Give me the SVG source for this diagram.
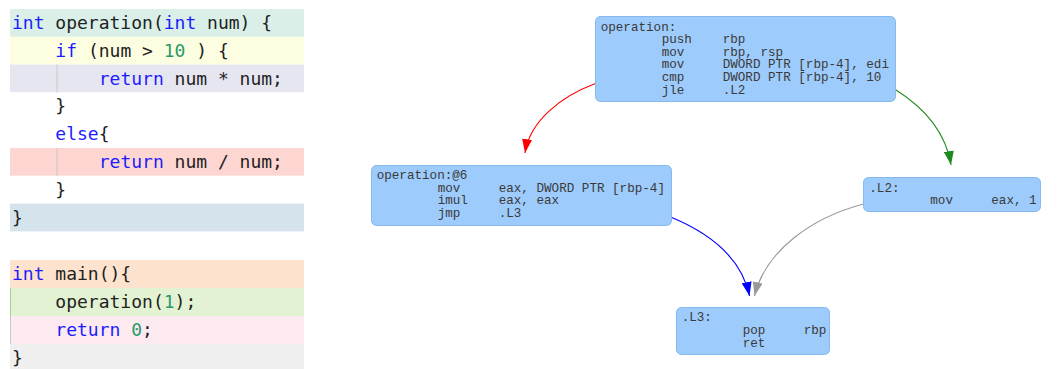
<svg xmlns="http://www.w3.org/2000/svg" width="1059" height="369" viewBox="0 0 1059 369">
<style>
.code{font-family:"DejaVu Sans Mono","Liberation Mono",monospace;font-size:18px;fill:#222;white-space:pre}
.kw{fill:#1c1cff}
.nm{fill:#2a9a6a}
.guide{stroke:#c8c8c8;stroke-width:1}
.node rect{fill:#9dcbfb;stroke:#84b8ef;stroke-width:1}
.asm{font-family:"Liberation Mono","DejaVu Sans Mono",monospace;font-size:12.6px;fill:#3a3a3a;white-space:pre}
.edge{fill:none;stroke-width:1.1}
</style>
<defs>
<marker id="ar" viewBox="0 0 14 10" refX="14" refY="5" markerWidth="14" markerHeight="10" markerUnits="userSpaceOnUse" orient="auto"><path d="M0,0 L14,5 L0,10 z" fill="#ff0000"/></marker>
<marker id="ag" viewBox="0 0 14 10" refX="14" refY="5" markerWidth="14" markerHeight="10" markerUnits="userSpaceOnUse" orient="auto"><path d="M0,0 L14,5 L0,10 z" fill="#1e8a1e"/></marker>
<marker id="ab" viewBox="0 0 14 10" refX="14" refY="5" markerWidth="14" markerHeight="10" markerUnits="userSpaceOnUse" orient="auto"><path d="M0,0 L14,5 L0,10 z" fill="#0000ff"/></marker>
<marker id="ay" viewBox="0 0 14 10" refX="14" refY="5" markerWidth="14" markerHeight="10" markerUnits="userSpaceOnUse" orient="auto"><path d="M0,0 L14,5 L0,10 z" fill="#999999"/></marker>
</defs>
<rect width="1059" height="369" fill="#ffffff"/>

<g id="code-operation">
<rect x="10" y="9" width="294" height="27.8" fill="#d9efe8"/>
<rect x="10" y="36.8" width="294" height="27.8" fill="#fdfde1"/>
<rect x="10" y="64.6" width="294" height="27.8" fill="#e6e6f1"/>
<rect x="10" y="92.4" width="294" height="27.8" fill="#ffffff"/>
<rect x="10" y="120.2" width="294" height="27.8" fill="#ffffff"/>
<rect x="10" y="148" width="294" height="27.8" fill="#fdd6d1"/>
<rect x="10" y="175.8" width="294" height="27.8" fill="#ffffff"/>
<rect x="10" y="203.6" width="294" height="27.8" fill="#d4e3ec"/>
<line class="guide" x1="57" y1="64.6" x2="57" y2="92.4"/>
<line class="guide" x1="57" y1="148" x2="57" y2="175.8"/>
<text class="code" x="12" y="29"><tspan class="kw">int</tspan> operation(<tspan class="kw">int</tspan> num) {</text>
<text class="code" x="12" y="56.8">    <tspan class="kw">if</tspan> (num &gt; <tspan class="nm">10</tspan> ) {</text>
<text class="code" x="12" y="84.6">        <tspan class="kw">return</tspan> num * num;</text>
<text class="code" x="12" y="112.4">    }</text>
<text class="code" x="12" y="140.2">    <tspan class="kw">else</tspan>{</text>
<text class="code" x="12" y="168">        <tspan class="kw">return</tspan> num / num;</text>
<text class="code" x="12" y="195.8">    }</text>
<text class="code" x="12" y="223.6">}</text>
</g>

<g id="code-main">
<rect x="10" y="260" width="294" height="28" fill="#fde2cd"/>
<rect x="10" y="288" width="294" height="28" fill="#e2f2d3"/>
<rect x="10" y="316" width="294" height="28" fill="#fdeaf1"/>
<rect x="10" y="344" width="294" height="25" fill="#efefef"/>
<line x1="10.5" y1="288" x2="10.5" y2="316" stroke="#a9cf8f" stroke-width="1"/>
<line x1="10.5" y1="316" x2="10.5" y2="344" stroke="#cfc2c8" stroke-width="1"/>
<text class="code" x="12" y="280"><tspan class="kw">int</tspan> main(){</text>
<text class="code" x="12" y="308">    operation(<tspan class="nm">1</tspan>);</text>
<text class="code" x="12" y="336">    <tspan class="kw">return</tspan> <tspan class="nm">0</tspan>;</text>
<text class="code" x="12" y="364">}</text>
</g>

<g id="connectors">
<path class="edge" stroke="#ff0000" d="M595.5,83.5 C562,96 530,120 525,153" marker-end="url(#ar)"/>
<path class="edge" stroke="#1e8a1e" d="M894.5,89 C925,108 946,133 951,165" marker-end="url(#ag)"/>
<path class="edge" stroke="#0000ff" d="M670.5,217 C712,234 742,260 749.5,296" marker-end="url(#ab)"/>
<path class="edge" stroke="#999999" d="M863.5,204 C810,218 765,252 754.5,296" marker-end="url(#ay)"/>
</g>

<g id="node-operation" class="node">
<rect x="595.5" y="16.5" width="300" height="85" rx="5"/>
<text class="asm" x="600.7" y="30.5">operation:</text>
<text class="asm" y="43.1"><tspan x="661.7">push</tspan><tspan x="722.7">rbp</tspan></text>
<text class="asm" y="55.7"><tspan x="661.7">mov</tspan><tspan x="722.7">rbp, rsp</tspan></text>
<text class="asm" y="68.3"><tspan x="661.7">mov</tspan><tspan x="722.7">DWORD PTR [rbp-4], edi</tspan></text>
<text class="asm" y="80.9"><tspan x="661.7">cmp</tspan><tspan x="722.7">DWORD PTR [rbp-4], 10</tspan></text>
<text class="asm" y="93.5"><tspan x="661.7">jle</tspan><tspan x="722.7">.L2</tspan></text>
</g>

<g id="node-operation-6" class="node">
<rect x="371.5" y="165.5" width="300" height="60" rx="5"/>
<text class="asm" x="376.7" y="179">operation:@6</text>
<text class="asm" y="191.7"><tspan x="437.7">mov</tspan><tspan x="498.7">eax, DWORD PTR [rbp-4]</tspan></text>
<text class="asm" y="204.4"><tspan x="437.7">imul</tspan><tspan x="498.7">eax, eax</tspan></text>
<text class="asm" y="217.1"><tspan x="437.7">jmp</tspan><tspan x="498.7">.L3</tspan></text>
</g>

<g id="node-L2" class="node">
<rect x="863.5" y="177.5" width="177" height="34" rx="5"/>
<text class="asm" x="869.3" y="191.5">.L2:</text>
<text class="asm" y="204.3"><tspan x="930.3">mov</tspan><tspan x="991.3">eax, 1</tspan></text>
</g>

<g id="node-L3" class="node">
<rect x="676.5" y="307.5" width="153" height="47" rx="5"/>
<text class="asm" x="681.7" y="321">.L3:</text>
<text class="asm" y="333.8"><tspan x="742.7">pop</tspan><tspan x="803.7">rbp</tspan></text>
<text class="asm" y="346.6"><tspan x="742.7">ret</tspan></text>
</g>
</svg>
